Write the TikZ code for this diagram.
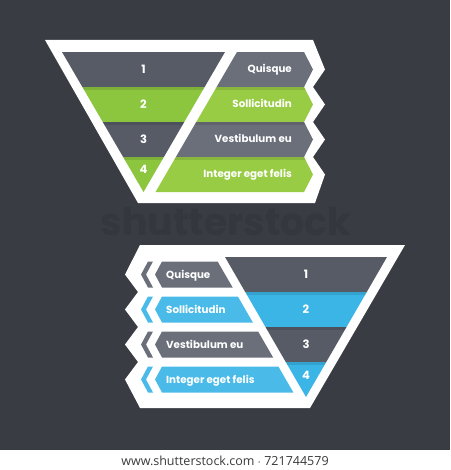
\documentclass[tikz,border=0pt]{standalone}
\usepackage{fontspec}
\newfontfamily\labfont{Poppins}
\newfontfamily\footfont{Open Sans}
\definecolor{bg}{HTML}{393C43}
\definecolor{fgrey}{HTML}{565B66}
\definecolor{lgrey}{HTML}{6B6F7A}
\definecolor{fgreen}{HTML}{8CC63F}
\definecolor{lgreen}{HTML}{99CC45}
\definecolor{fblue}{HTML}{3BB5E6}
\definecolor{lblue}{HTML}{4ABBE8}
\definecolor{wmark}{HTML}{34373D}
\definecolor{wline}{HTML}{4A4D54}
\definecolor{foot}{HTML}{3A3A3A}
\tikzset{
  num/.style={text=white,inner sep=0pt,font=\labfont\bfseries\fontsize{11.5}{12}\selectfont},
  lab/.style={text=white,inner sep=0pt,font=\labfont\bfseries\fontsize{10.3}{11}\selectfont},
  shade/.style={fill=black,opacity=0.10},
}
\begin{document}
\begin{tikzpicture}[x=1pt,y=-1pt]
\useasboundingbox (0,0) rectangle (450,470);
\fill[bg] (0,0) rectangle (450,450);
\fill[white] (0,450) rectangle (450,470);
% watermark
\node[text=wmark,inner sep=0pt,font=\labfont\bfseries\fontsize{38}{38}\selectfont] (wm) at (226,222) {shutterstock};
% ---------- top figure ----------
\fill[white] (45,40) -- (313,40) -- (325,69.5) -- (313,87) -- (325,104.5) -- (313,122)
  -- (325,139.5) -- (313,157) -- (325,174.5) -- (315,203) -- (138,203) -- cycle;
\begin{scope}
  \clip (62,52) -- (225,52) -- (143.5,192) -- cycle;
  \fill[fgrey] (0,52) rectangle (450,87);
  \fill[fgreen] (0,87) rectangle (450,122);
  \fill[fgrey] (0,122) rectangle (450,157);
  \fill[fgreen] (0,157) rectangle (450,193);
  \fill[shade] (0,87) rectangle (450,90);
  \fill[shade] (0,122) rectangle (450,125);
  \fill[shade] (0,157) rectangle (450,160);
\end{scope}
\begin{scope}
  \clip (237,52) -- (304,52) -- (313,69.5) -- (304,87) -- (313,104.5) -- (304,122)
    -- (313,139.5) -- (304,157) -- (313,174.5) -- (304,192) -- (155.5,192) -- cycle;
  \fill[lgrey] (0,52) rectangle (450,87);
  \fill[lgreen] (0,87) rectangle (450,122);
  \fill[lgrey] (0,122) rectangle (450,157);
  \fill[lgreen] (0,157) rectangle (450,193);
  \fill[shade] (0,87) rectangle (450,90);
  \fill[shade] (0,122) rectangle (450,125);
  \fill[shade] (0,157) rectangle (450,160);
\end{scope}
\node[num,anchor=base] (t1) at (143.5,73.5) {1};
\node[num,anchor=base] (t2) at (143.5,108.5) {2};
\node[num,anchor=base] (t3) at (143.5,143.5) {3};
\node[num,anchor=base] (t4) at (143.5,174) {4};
\node[lab,anchor=base east] (tq) at (292,73) {Quisque};
\node[lab,anchor=base east] (ts) at (292,108) {Sollicitudin};
\node[lab,anchor=base east] (tv) at (292,143) {Vestibulum eu};
\node[lab,anchor=base east] (ti) at (292,178) {Integer eget felis};
% ---------- bottom figure ----------
\fill[white] (140,245) -- (405,245) -- (310,408) -- (140,408) -- (125,379.5) -- (138,362)
  -- (125,344.5) -- (138,327) -- (125,309.5) -- (138,292) -- (125,274.5) -- cycle;
\begin{scope}
  \clip (225,257) -- (387,257) -- (306,397) -- cycle;
  \fill[fgrey] (0,257) rectangle (450,292);
  \fill[fblue] (0,292) rectangle (450,327);
  \fill[fgrey] (0,327) rectangle (450,362);
  \fill[fblue] (0,362) rectangle (450,398);
  \fill[shade] (0,292) rectangle (450,295);
  \fill[shade] (0,327) rectangle (450,330);
  \fill[shade] (0,362) rectangle (450,365);
\end{scope}
% label bands: right edge parallel to funnel left edge, gap 10
\foreach \c/\col in {274.5/lgrey,309.5/lblue,344.5/lgrey,379.5/lblue}{
  \pgfmathsetmacro{\xt}{225+0.5786*(\c-13-257)-10}
  \pgfmathsetmacro{\xb}{225+0.5786*(\c+13-257)-10}
  \fill[\col] (155,\c) -- (162,\c-13) -- (\xt,\c-13) -- (\xb,\c+13) -- (162,\c+13) -- cycle;
  \fill[\col] (148,\c-13) -- (141,\c) -- (148,\c+13) -- (153,\c+13) -- (146,\c) -- (153,\c-13) -- cycle;
}
\node[num,anchor=base] (b1) at (306,278.5) {1};
\node[num,anchor=base] (b2) at (306,313.5) {2};
\node[num,anchor=base] (b3) at (306,348.5) {3};
\node[num,anchor=base] (b4) at (306,379) {4};
\node[lab,anchor=base west] (bq) at (166,278) {Quisque};
\node[lab,anchor=base west] (bs) at (166,313) {Sollicitudin};
\node[lab,anchor=base west] (bv) at (166,348) {Vestibulum eu};
\node[lab,anchor=base west] (bi) at (166,383) {Integer eget felis};
% footer
\node[text=foot,inner sep=0pt,font=\footfont\fontsize{12.5}{13}\selectfont] (ft) at (225,461) {www.shutterstock.com $\cdot$ 721744579};
\end{tikzpicture}
\end{document}
